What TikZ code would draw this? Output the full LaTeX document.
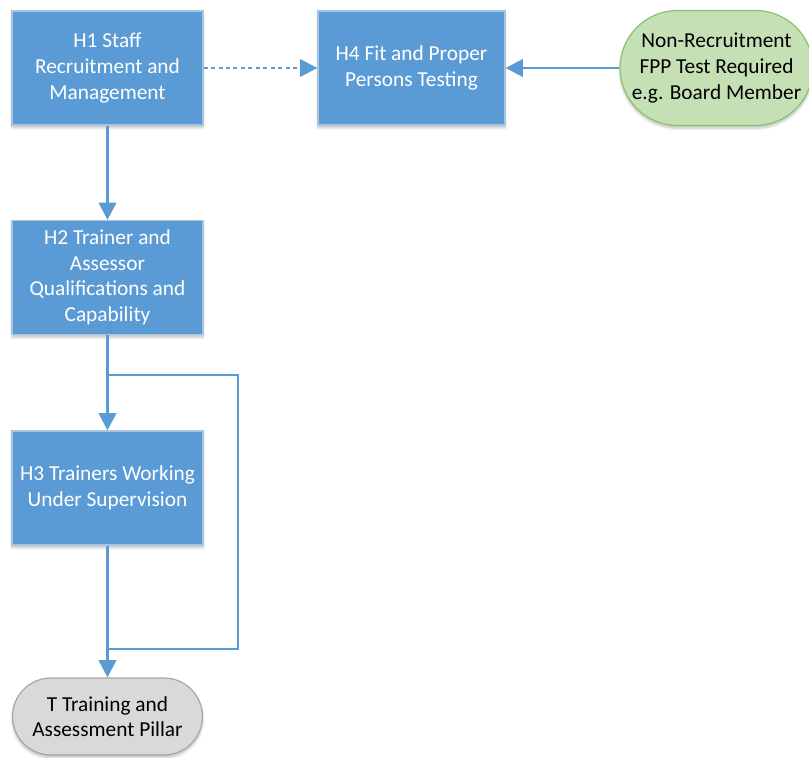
\documentclass[tikz,border=0pt]{standalone}
\usepackage{fontspec}
\setmainfont{Carlito}
\usetikzlibrary{arrows.meta,shapes.misc,shadows.blur}
\definecolor{procblue}{HTML}{5B9BD5}
\definecolor{procedge}{HTML}{A9C4E0}
\definecolor{linkblue}{HTML}{5B9BD5}
\definecolor{startgreen}{HTML}{C5E0B4}
\definecolor{startedge}{HTML}{8CC06A}
\definecolor{endgray}{HTML}{D9D9D9}
\definecolor{endedge}{HTML}{A6A6A6}
\tikzset{
  base/.style={align=center, font=\fontsize{16}{19.2}\selectfont,
    blur shadow={shadow xshift=0pt, shadow yshift=-2pt, shadow blur steps=6, shadow opacity=25}},
  process/.style={base, rectangle, fill=procblue, draw=procedge, line width=0.9pt,
    text=white, minimum width=191*0.75pt, minimum height=114*0.75pt, inner sep=0pt},
  terminal/.style={base, rounded rectangle, line width=0.9pt, inner sep=0pt},
  link/.style={draw=linkblue, line width=2.2pt, -{Triangle[length=13pt,width=13pt]}},
  thin link/.style={draw=linkblue, line width=1.6pt},
}
\begin{document}
\begin{tikzpicture}[x=0.75pt,y=-0.75pt]
\useasboundingbox (0,0) rectangle (809,757);
\node[process] (h1) at (107.5,68) {H1 Staff\\Recruitment and\\Management};
\node[process, minimum width=187*0.75pt] (h4) at (411.5,68) {H4 Fit and Proper\\Persons Testing};
\node[terminal, fill=startgreen, draw=startedge, minimum width=184*0.75pt, minimum height=115*0.75pt] (nr) at (716.5,68) {Non-Recruitment\\FPP Test Required\\e.g. Board Member};
\node[process] (h2) at (107.5,277.5) {H2 Trainer and\\Assessor\\Qualifications and\\Capability};
\node[process] (h3) at (107.5,488) {H3 Trainers Working\\Under Supervision};
\node[terminal, fill=endgray, draw=endedge, minimum width=190*0.75pt, minimum height=77*0.75pt] (t) at (107.5,716.5) {T Training and\\Assessment Pillar};

\coordinate (split) at (107.5,375);
\coordinate (join) at (107.5,649);

\draw[link, dash pattern=on 3pt off 2.6pt] (h1.east) -- (h4.west);
\draw[link] (nr.west) -- (h4.east);
\draw[link] (h1.south) -- (h2.north);
\draw[link] (h2.south) -- (h3.north);
\draw[thin link] (split) -| (238,649) -- (join);
\draw[link] (h3.south) -- (t.north);
\end{tikzpicture}
\end{document}
